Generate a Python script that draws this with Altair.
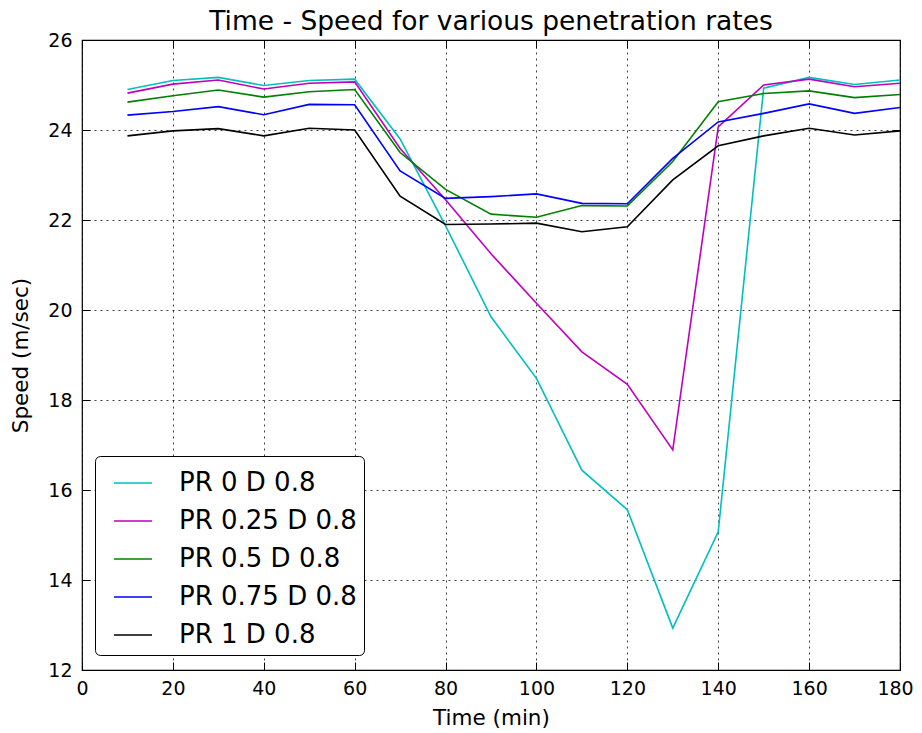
import altair as alt
import pandas as pd

times = [10, 20, 30, 40, 50, 60, 70, 80, 90, 100, 110, 120, 130, 140, 150, 160, 170, 180]
series_names = ["PR 0 D 0.8", "PR 0.25 D 0.8", "PR 0.5 D 0.8", "PR 0.75 D 0.8", "PR 1 D 0.8"]
pr_0 = [24.90, 25.10, 25.17, 24.99, 25.10, 25.13, 23.80, 21.87, 19.85, 18.48, 16.44, 15.56, 12.93, 15.07, 24.93, 25.17, 25.01, 25.11]
pr_025 = [24.82, 25.02, 25.11, 24.91, 25.04, 25.07, 23.59, 22.45, 21.25, 20.15, 19.07, 18.35, 16.89, 24.07, 25.00, 25.13, 24.96, 25.04]
pr_05 = [24.62, 24.76, 24.89, 24.73, 24.85, 24.90, 23.50, 22.68, 22.13, 22.06, 22.32, 22.31, 23.30, 24.63, 24.81, 24.87, 24.72, 24.79]
pr_075 = [24.33, 24.41, 24.52, 24.34, 24.57, 24.56, 23.09, 22.48, 22.52, 22.58, 22.37, 22.36, 23.37, 24.18, 24.37, 24.58, 24.37, 24.50]
pr_1 = [23.87, 23.98, 24.03, 23.87, 24.04, 24.00, 22.53, 21.90, 21.91, 21.93, 21.74, 21.85, 22.89, 23.65, 23.87, 24.04, 23.89, 23.98]
colors = ["#00BFBF", "#BF00BF", "#008000", "#0000FF", "#000000"]
x_ticks = [0, 20, 40, 60, 80, 100, 120, 140, 160, 180]
y_ticks = [12, 14, 16, 18, 20, 22, 24, 26]

rows = []
for name, vals in zip(series_names, [pr_0, pr_025, pr_05, pr_075, pr_1]):
    for t, v in zip(times, vals):
        rows.append({"time": t, "speed": v, "series": name})
df = pd.DataFrame(rows)

FONT = "DejaVu Sans"
xscale = alt.Scale(domain=[0, 180], nice=False, zero=False)
yscale = alt.Scale(domain=[12, 26], nice=False, zero=False)

base = alt.Chart(df)

lines = base.mark_line(strokeWidth=1.6).encode(
    x=alt.X("time:Q", scale=xscale,
            axis=alt.Axis(values=x_ticks, title="Time (min)", grid=True, ticks=False, domain=False,
                          labelPadding=9, titlePadding=9, labelFontSize=19, titleFontSize=21.5,
                          format="d", labelFlush=False, labelBound=False,
                          labelOffset={"condition": {"test": "datum.value == 180", "value": -5}, "value": 0})),
    y=alt.Y("speed:Q", scale=yscale,
            axis=alt.Axis(values=y_ticks, title="Speed (m/sec)", grid=True, ticks=False, domain=False,
                          labelPadding=10, titlePadding=15, labelFontSize=19, titleFontSize=21.5,
                          format="d", labelFlush=False)),
    color=alt.Color("series:N", scale=alt.Scale(domain=series_names, range=colors),
                    legend=alt.Legend(title=None, orient="none", legendX=13, legendY=416,
                                      symbolType="stroke", symbolSize=1444, symbolStrokeWidth=1.6,
                                      labelFontSize=26, labelFont=FONT, labelColor="#000000",
                                      padding=7, symbolOffset=11, labelOffset=26, rowPadding=5,
                                      labelLimit=400, fillColor="white", strokeColor="black",
                                      cornerRadius=5, labelExpr="datum.label + '\u00a0\u00a0\u00a0'")),
)


def tick_axis(orient, vals):
    return alt.Axis(orient=orient, values=vals, labels=False, domain=False, grid=False,
                    ticks=True, tickSize=8, tickColor="black", tickWidth=1, offset=-8, title=None)


ticks_a = base.mark_point(opacity=0).encode(
    x=alt.X("time:Q", scale=xscale, axis=tick_axis("bottom", x_ticks)),
    y=alt.Y("speed:Q", scale=yscale, axis=tick_axis("left", y_ticks)),
)
ticks_b = base.mark_point(opacity=0).encode(
    x=alt.X("time:Q", scale=xscale, axis=tick_axis("top", x_ticks)),
    y=alt.Y("speed:Q", scale=yscale, axis=tick_axis("right", y_ticks)),
)

chart = alt.layer(lines, ticks_a, ticks_b).resolve_axis(
    x="independent", y="independent"
).properties(
    width=818,
    height=630,
    autosize=alt.AutoSizeParams(type="none"),
    padding={"left": 74, "top": 32, "right": 14, "bottom": 62},
    title=alt.TitleParams("Time - Speed for various penetration rates", fontSize=26.5, font=FONT,
                          fontWeight="normal", color="#000000", anchor="middle", offset=-4),
).configure_view(
    stroke="black", strokeWidth=1.2
).configure_axis(
    labelFont=FONT, titleFont=FONT, labelColor="#000000", titleColor="#000000",
    titleFontWeight="normal", gridColor="#000000", gridDash=[2, 4], gridWidth=1, gridOpacity=0.75
)

chart.save("out.html", embed_options={"renderer": "svg", "actions": False})
